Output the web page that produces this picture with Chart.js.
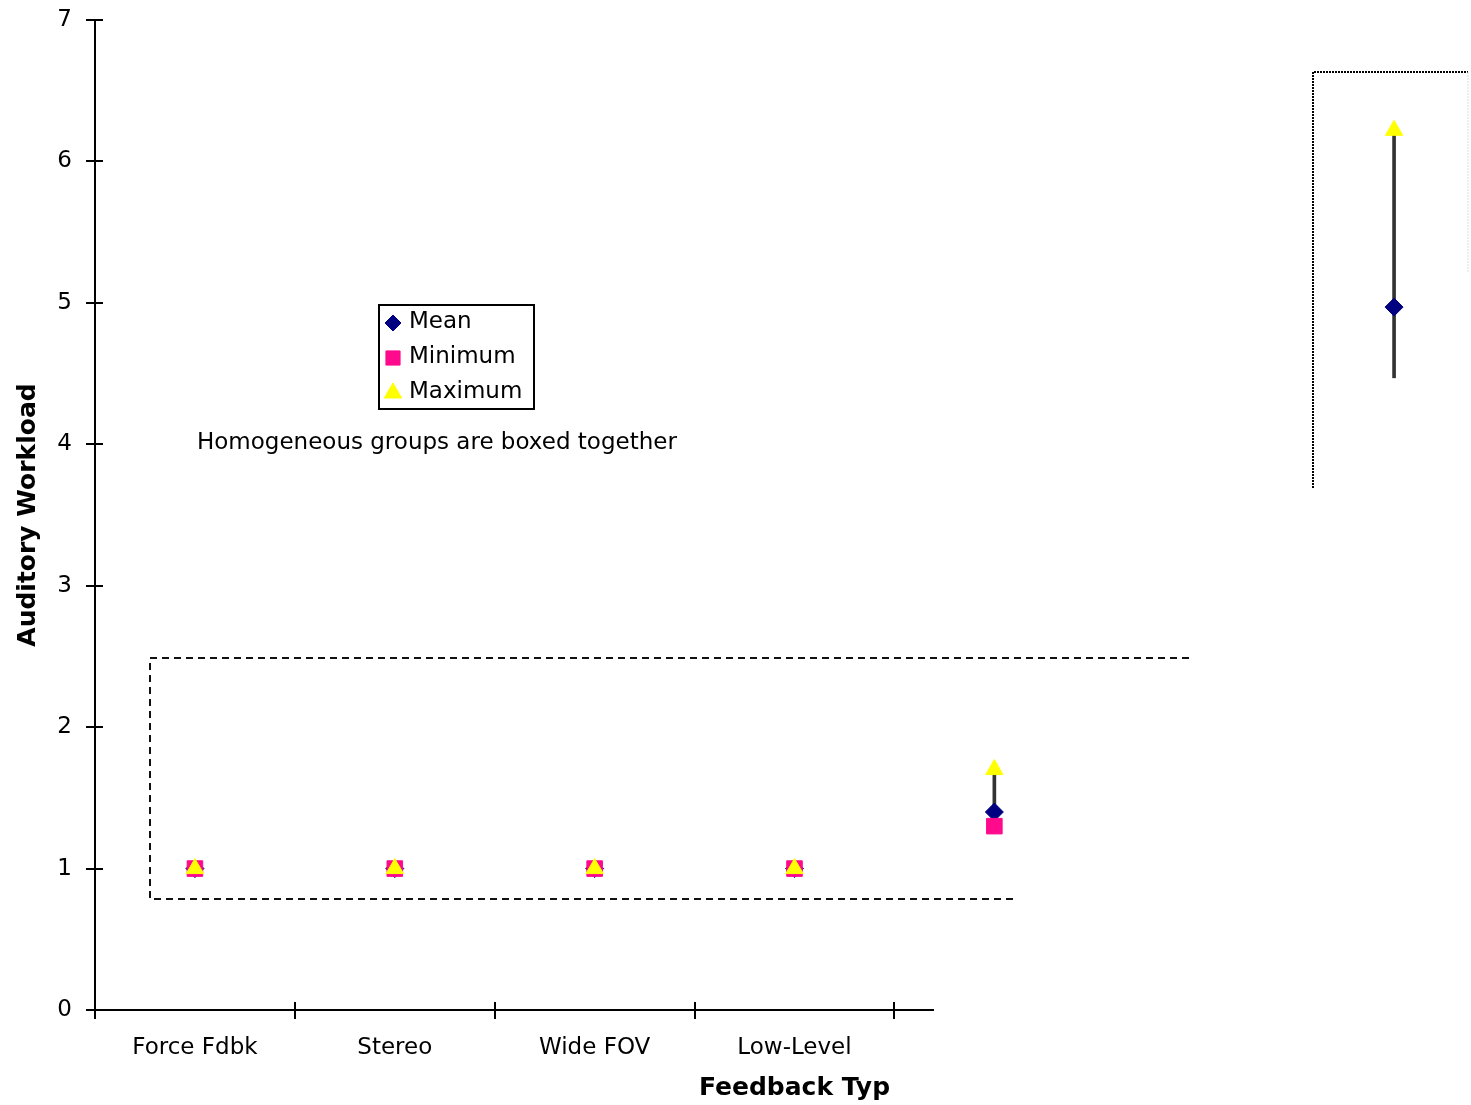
<!DOCTYPE html>
<html>
<head>
<meta charset="utf-8">
<script src="https://cdn.jsdelivr.net/npm/chart.js@4.4.1/dist/chart.umd.min.js"></script>
<style>
  html, body { margin: 0; padding: 0; background: #fff; overflow: hidden; }
  /* the original picture is cropped on the right, so the canvas is a bit wider than the window */
  #wrap { position: absolute; left: 0; top: 0; width: 1506px; height: 1105px; }
</style>
</head>
<body>
<div id="wrap"><canvas id="grafico"></canvas></div>
<script>
// data (last 3 categories have no label in the original)
const categories = ['Force Fdbk', 'Stereo', 'Wide FOV', 'Low-Level', '', '', ''];
const meanVals = [1, 1, 1, 1, 1.4, null, 4.97];
const minVals  = [1, 1, 1, 1, 1.3, null, null];
const maxVals  = [1, 1, 1, 1, 1.7, null, 6.22];
const whiskerLow = [null, null, null, null, 1.3, null, 4.47];
const yTicks = [0, 1, 2, 3, 4, 5, 6, 7];

const FONT = 'DejaVu Sans';

// boxes around homogeneous groups, in data units (x = category index)
const groupBox = { left: -0.225, top: 2.49, bottom: 0.785, rightTop: 4.975, rightBottom: 4.11 };
const topBox = { left: 5.595, top: 6.63, bottom: 3.69, right: 6.37, rightBottom: 5.22 };
const xAxisEnd = 3.7;

const extras = {
  id: 'extras',
  beforeDatasetsDraw(chart) {
    const { ctx, scales: { x, y } } = chart;
    const px = v => Math.round(x.getPixelForValue(v));
    const py = v => Math.round(y.getPixelForValue(v));
    const x0 = px(-0.5);
    const y0 = py(0);
    ctx.save();
    ctx.strokeStyle = '#000';
    ctx.lineWidth = 2;

    // axes
    ctx.beginPath();
    ctx.moveTo(x0, py(7));
    ctx.lineTo(x0, y0 + 9);
    ctx.moveTo(x0 - 9, y0);
    ctx.lineTo(px(xAxisEnd), y0);
    yTicks.forEach(v => {
      ctx.moveTo(x0 - 9, py(v));
      ctx.lineTo(x0 + 8, py(v));
    });
    for (let i = 0; i < 5; i++) {
      ctx.moveTo(px(i - 0.5), y0 - 8);
      ctx.lineTo(px(i - 0.5), y0 + 9);
    }
    ctx.stroke();

    // dashed box
    ctx.strokeStyle = '#111';
    ctx.setLineDash([7, 5]);
    ctx.beginPath();
    ctx.moveTo(px(groupBox.rightTop), py(groupBox.top));
    ctx.lineTo(px(groupBox.left), py(groupBox.top));
    ctx.lineTo(px(groupBox.left), py(groupBox.bottom));
    ctx.lineTo(px(groupBox.rightBottom), py(groupBox.bottom));
    ctx.stroke();

    // dotted box
    ctx.strokeStyle = '#000';
    ctx.setLineDash([2, 1]);
    ctx.beginPath();
    ctx.moveTo(px(topBox.left), py(topBox.bottom));
    ctx.lineTo(px(topBox.left), py(topBox.top));
    ctx.lineTo(px(topBox.right), py(topBox.top));
    ctx.stroke();
    ctx.strokeStyle = '#ddd';
    ctx.lineWidth = 1;
    ctx.beginPath();
    ctx.moveTo(px(topBox.right), py(topBox.top));
    ctx.lineTo(px(topBox.right), py(topBox.rightBottom));
    ctx.stroke();
    ctx.restore();
  },
  afterDraw(chart) {
    const { ctx } = chart;
    ctx.save();
    // note
    ctx.fillStyle = '#000';
    ctx.font = '23px ' + FONT;
    ctx.textBaseline = 'middle';
    ctx.textAlign = 'left';
    ctx.fillText('Homogeneous groups are boxed together', 197, 443);

    // legend box
    ctx.fillStyle = '#fff';
    ctx.fillRect(379, 305, 155, 104);
    ctx.strokeStyle = '#000';
    ctx.lineWidth = 2;
    ctx.strokeRect(379, 305, 155, 104);
    const items = [
      { ds: 1, y: 322, r: 8 },
      { ds: 2, y: 357, r: 10 },
      { ds: 3, y: 392, r: 10 }
    ];
    ctx.font = '23px ' + FONT;
    items.forEach(it => {
      const d = chart.data.datasets[it.ds];
      ctx.fillStyle = d.backgroundColor;
      ctx.strokeStyle = d.borderColor;
      ctx.lineWidth = 1;
      Chart.helpers.drawPoint(ctx, { pointStyle: d.pointStyle, radius: it.r, rotation: 0, borderWidth: 1 }, 393, it.y + 1);
      ctx.fillStyle = '#000';
      ctx.fillText(d.label, 409, it.y);
    });
    ctx.restore();
  }
};

new Chart(document.getElementById('grafico'), {
  type: 'bar',
  data: {
    labels: categories,
    datasets: [
      {
        type: 'bar',
        label: 'range',
        data: whiskerLow.map((lo, i) => lo === null ? null : [lo, maxVals[i]]),
        backgroundColor: '#333',
        barThickness: 3,
        order: 4
      },
      {
        type: 'line',
        label: 'Mean',
        data: meanVals,
        showLine: false,
        pointStyle: 'rectRot',
        pointRadius: 9,
        backgroundColor: '#000080',
        borderColor: '#000080',
        pointBorderWidth: 1,
        order: 3
      },
      {
        type: 'line',
        label: 'Minimum',
        data: minVals,
        showLine: false,
        pointStyle: 'rect',
        pointRadius: 11,
        backgroundColor: '#ff0a8c',
        borderColor: '#ff0a8c',
        pointBorderWidth: 1,
        order: 2
      },
      {
        type: 'line',
        label: 'Maximum',
        data: maxVals,
        showLine: false,
        pointStyle: 'triangle',
        pointRadius: 10,
        backgroundColor: '#ffff00',
        borderColor: '#ffff00',
        pointBorderWidth: 1,
        order: 1
      }
    ]
  },
  options: {
    responsive: true,
    maintainAspectRatio: false,
    animation: false,
    layout: { padding: { top: 20, right: 5, left: 0, bottom: 0 } },
    plugins: {
      legend: { display: false },
      tooltip: { enabled: false }
    },
    scales: {
      x: {
        type: 'category',
        offset: true,
        grid: { display: false, drawTicks: false },
        border: { display: false },
        ticks: { color: '#000', font: { family: FONT, size: 23 }, padding: 24, maxRotation: 0, autoSkip: false },
        title: {
          display: true,
          text: 'Feedback Typ',
          color: '#000',
          font: { family: FONT, size: 25, weight: 'bold' },
          padding: { top: 0, bottom: 2 }
        },
        afterFit(scale) { scale.height = 95; }
      },
      y: {
        min: 0,
        max: 7,
        // tick length only pushes the labels away from the axis (axis itself drawn by the plugin)
        grid: { display: false, drawTicks: true, tickLength: 23 },
        border: { display: false },
        afterBuildTicks(scale) { scale.ticks = yTicks.map(v => ({ value: v })); },
        ticks: { color: '#000', font: { family: FONT, size: 23 }, padding: 0 },
        title: {
          display: true,
          text: 'Auditory Workload',
          color: '#000',
          font: { family: FONT, size: 25, weight: 'bold' },
          padding: { top: 13, bottom: 0 }
        },
        afterFit(scale) { scale.width = 95; }
      }
    }
  },
  plugins: [extras]
});
</script>
</body>
</html>
